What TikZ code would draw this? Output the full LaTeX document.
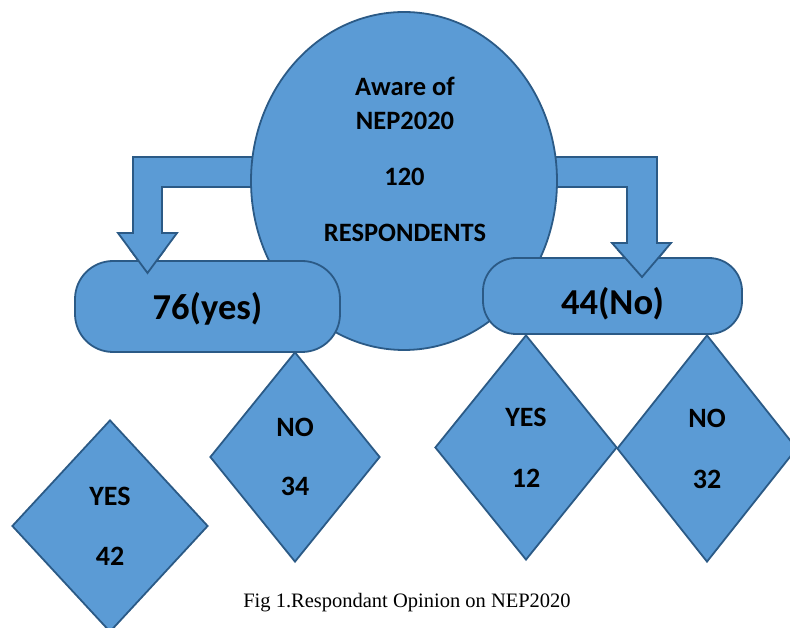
\documentclass[tikz,border=0pt]{standalone}
\usepackage{fontspec}
\setmainfont{Carlito}
\newfontfamily\capfont{Liberation Serif}
\usetikzlibrary{shapes.geometric}
\definecolor{shapefill}{HTML}{5B9BD5}
\definecolor{shapeline}{HTML}{2B5A86}

\begin{document}
\begin{tikzpicture}[x=1pt, y=-1pt,
  blk/.style={fill=shapefill, draw=shapeline, line width=1.8pt, line join=miter},
  pill/.style={blk, rectangle, inner sep=0pt, font=\bfseries\fontsize{36.5}{40}\selectfont, text depth=0pt},
  dia/.style={blk, diamond, inner sep=0pt, align=center, font=\bfseries\fontsize{28}{60}\selectfont},
  txt/.style={anchor=base, inner sep=0pt, font=\bfseries\fontsize{26.5}{30}\selectfont}]
\useasboundingbox (0,0) rectangle (790,628);
\clip (0,0) rectangle (790,628);

% arrows (under the ellipse)
\draw[blk] (300,157) -- (133,157) -- (133,233) -- (118,233) -- (147.5,273) -- (177,233) -- (162,233) -- (162,187) -- (300,187) -- cycle;
\draw[blk] (500,157) -- (657,157) -- (657,243) -- (671,243) -- (642,277) -- (612,243) -- (627,243) -- (627,187) -- (500,187) -- cycle;

\node[blk, ellipse, inner sep=0pt, minimum width=306, minimum height=338] (aware) at (404,181) {};
\node[txt] (awr) at (405,96) {Aware of};
\node[txt] (nep) at (405,130) {NEP2020};
\node[txt] (num) at (404.5,186) {120};
\node[txt] (resp) at (405,242) {RESPONDENTS};

\node[pill, rounded corners=38, minimum width=265, minimum height=91, text height=27pt] (yesbox) at (207.5,306.5) {76(yes)};
\node[pill, rounded corners=33, minimum width=259, minimum height=76, text height=38pt] (nobox) at (612.5,296) {44(No)};

% arrow heads over the boxes
\begin{scope}
\clip (100,250) rectangle (200,290) (600,250) rectangle (690,290);
\draw[blk] (300,157) -- (133,157) -- (133,233) -- (118,233) -- (147.5,273) -- (177,233) -- (162,233) -- (162,187) -- (300,187) -- cycle;
\draw[blk] (500,157) -- (657,157) -- (657,243) -- (671,243) -- (642,277) -- (612,243) -- (627,243) -- (627,187) -- (500,187) -- cycle;
\end{scope}

\node[dia, minimum width=196, minimum height=212] (yes42) at (110,526) {YES\\42};
\node[dia, minimum width=170, minimum height=210, font=\bfseries\fontsize{28}{59}\selectfont] (no34) at (295,457) {NO\\34};
\node[dia, minimum width=182, minimum height=225, font=\bfseries\fontsize{28}{61}\selectfont] (yes12) at (526,447.5) {YES\\12};
\node[dia, minimum width=180, minimum height=227, font=\bfseries\fontsize{28}{61}\selectfont] (no32) at (707,448.5) {NO\\32};

\node[anchor=base, inner sep=0pt, font=\capfont\fontsize{20.5}{24}\selectfont] (cap) at (407,607) {Fig 1.Respondant Opinion on NEP2020};
\end{tikzpicture}
\end{document}
